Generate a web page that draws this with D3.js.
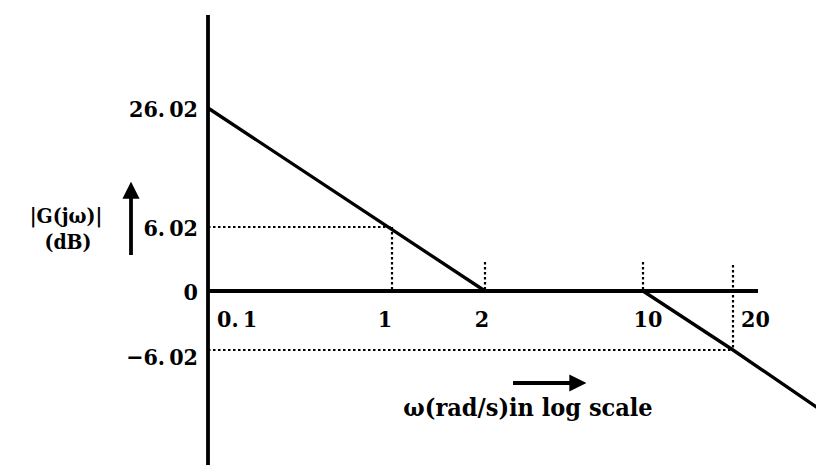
<!DOCTYPE html>
<html lang="en">
<head>
<meta charset="utf-8">
<title></title>
<script src="https://d3js.org/d3.v7.min.js"></script>
<style type="text/css">
  body { margin: 0; background: #fff; }
  text { font-family: "DejaVu Serif Condensed", "DejaVu Serif", serif; font-weight: bold; fill: #000; }
</style>
</head>
<body>

<svg width="816" height="465" id="svg1"></svg>

<script>

  // data
  var omega = [0.1, 2, 10, 20, 30];
  var magDb = [26.02, 0, 0, -6.02, -12.3];

  var xTicks = [0.1, 1, 2, 10, 20];
  var xLabels = ["0.\u20091", "1", "2", "10", "20"];
  var yTicks = [26.02, 6.02, 0, -6.02];
  var yLabels = ["26.\u200902", "6.\u200902", "0", "\u22126.\u200902"];

  var svg = d3.select("#svg1");

  // the sketch is not to scale, so use piecewise scales through the marked points
  var xScale = d3.scaleLinear().domain([0.1, 1, 2, 10, 20]).range([208, 392, 485, 643, 733]);
  var yScale = d3.scaleLinear().domain([-6.02, 0, 6.02, 26.02]).range([350, 291, 227, 108]);

  var x0 = xScale(0.1), y0 = yScale(0);
  var font = "DejaVu Serif Condensed";

  // dotted guide lines
  var dot = "2.5,2.5";
  function dotted(x1, y1, x2, y2) {
    svg.append("line")
      .attr("x1", x1).attr("y1", y1).attr("x2", x2).attr("y2", y2)
      .attr("stroke", "#000").attr("stroke-width", 2.2).attr("stroke-dasharray", dot);
  }
  dotted(x0, yScale(6.02), xScale(1), yScale(6.02));
  dotted(xScale(1), yScale(6.02), xScale(1), y0);
  dotted(x0, yScale(-6.02), xScale(20), yScale(-6.02));
  dotted(xScale(20), y0 - 26, xScale(20), yScale(-6.02));
  dotted(xScale(2), y0 - 29, xScale(2), y0);
  dotted(xScale(10), y0 - 29, xScale(10), y0);

  // axes lines
  svg.append("line")
    .attr("x1", x0).attr("x2", x0).attr("y1", 15).attr("y2", 465)
    .attr("stroke", "#000").attr("stroke-width", 3.8);
  svg.append("line")
    .attr("x1", x0).attr("x2", 758).attr("y1", y0).attr("y2", y0)
    .attr("stroke", "#000").attr("stroke-width", 3.8);

  // asymptotic magnitude line
  var line = d3.line()
    .x(function(d, i) { return xScale(omega[i]); })
    .y(function(d) { return yScale(d); });
  svg.append("path")
    .datum(magDb)
    .attr("d", line)
    .attr("fill", "none")
    .attr("stroke", "#000")
    .attr("stroke-width", 3.3);

  // y tick labels
  var yAxis = d3.axisLeft(yScale)
    .tickValues(yTicks)
    .tickSize(0)
    .tickPadding(10)
    .tickFormat(function(d, i) { return yLabels[i]; });
  var gy = svg.append("g").attr("transform", `translate(${x0}, 0)`).call(yAxis);
  gy.select(".domain").remove();
  gy.selectAll("text")
    .attr("font-family", font)
    .attr("font-weight", "bold")
    .attr("font-size", 23)
    .attr("dy", function(d) { return d < 0 ? "0.62em" : "0.36em"; });

  // x tick labels
  svg.selectAll(".xlab").data(xTicks).enter().append("text")
    .attr("class", "xlab")
    .attr("x", function(d) {
      if (d == 0.1) return xScale(d) + 9;
      if (d == 20) return xScale(d) + 8;
      if (d == 10) return xScale(d) + 5;
      if (d == 1) return xScale(d) - 7;
      return xScale(d) - 3;
    })
    .attr("y", y0 + 36)
    .attr("text-anchor", function(d) { return (d == 0.1 || d == 20) ? "start" : "middle"; })
    .attr("font-size", 23)
    .text(function(d, i) { return xLabels[i]; });

  // arrows
  var defs = svg.append("defs");
  defs.append("marker")
    .attr("id", "arr")
    .attr("viewBox", "0 0 10 10")
    .attr("refX", 1).attr("refY", 5)
    .attr("markerWidth", 4.5).attr("markerHeight", 4.5)
    .attr("orient", "auto")
    .append("path").attr("d", "M0,0 L10,5 L0,10 Z").attr("fill", "#000");

  svg.append("line")
    .attr("x1", 131).attr("x2", 131).attr("y1", 255).attr("y2", 197)
    .attr("stroke", "#000").attr("stroke-width", 3.8)
    .attr("marker-end", "url(#arr)");
  svg.append("line")
    .attr("x1", 513).attr("x2", 571).attr("y1", 383).attr("y2", 383)
    .attr("stroke", "#000").attr("stroke-width", 3.8)
    .attr("marker-end", "url(#arr)");

  // axis titles
  svg.append("text")
    .attr("x", 66).attr("y", 223)
    .attr("text-anchor", "middle")
    .attr("font-size", 21)
    .text("|G(jω)|");
  svg.append("text")
    .attr("x", 68).attr("y", 249)
    .attr("text-anchor", "middle")
    .attr("font-size", 21)
    .text("(dB)");
  svg.append("text")
    .attr("x", 528).attr("y", 416)
    .attr("text-anchor", "middle")
    .attr("font-size", 25)
    .text("ω(rad/s)in log scale");

</script>

</body>
</html>
